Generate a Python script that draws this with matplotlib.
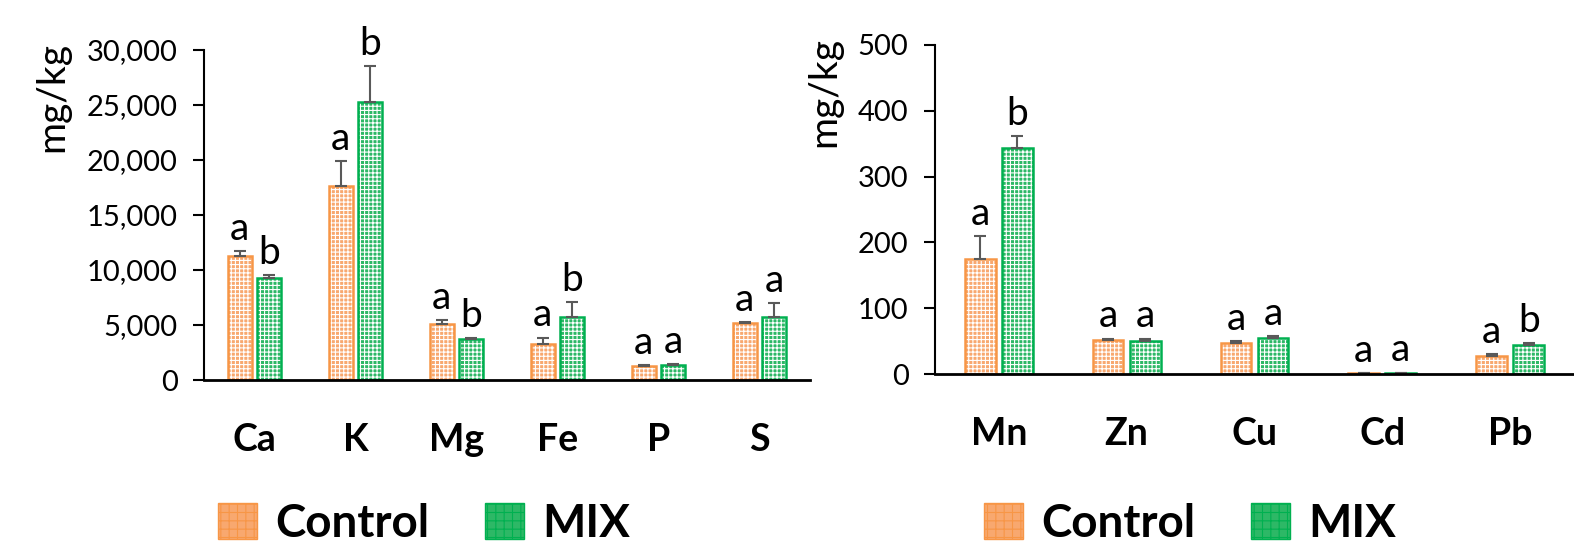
import matplotlib.pyplot as plt
import numpy as np
from matplotlib.patches import Patch

plt.rcParams['font.family'] = ['Lato', 'DejaVu Sans']
plt.rcParams['hatch.linewidth'] = 0.8

# left panel: macro elements
macro = ['Ca', 'K', 'Mg', 'Fe', 'P', 'S']
macro_ctrl = [11300, 17600, 5060, 3250, 1270, 5150]
macro_ctrl_err = [450, 2300, 370, 600, 80, 100]
macro_mix = [9300, 25250, 3750, 5700, 1360, 5700]
macro_mix_err = [250, 3300, 60, 1400, 100, 1270]
macro_ctrl_lbl = ['a', 'a', 'a', 'a', 'a', 'a']
macro_mix_lbl = ['b', 'b', 'b', 'b', 'a', 'a']

# right panel: trace elements
trace = ['Mn', 'Zn', 'Cu', 'Cd', 'Pb']
trace_ctrl = [175, 52, 47, 1.5, 27.5]
trace_ctrl_err = [34, 2, 3, 0.5, 2.5]
trace_mix = [344, 50, 55, 1.8, 44.5]
trace_mix_err = [17, 4, 3, 0.5, 3]
trace_ctrl_lbl = ['a', 'a', 'a', 'a', 'a']
trace_mix_lbl = ['b', 'a', 'a', 'a', 'b']

orange = '#F79646'
orange_fill = '#F8A86F'
green = '#00B050'
green_fill = '#2DB866'
err_col = '#595959'

fig = plt.figure(figsize=(15.74, 5.55), dpi=100)
ax1 = fig.add_axes([0.1296, 0.3153, 0.385, 0.5946])
ax2 = fig.add_axes([0.594, 0.326, 0.406, 0.593])

w = 0.24
off = 0.145


def draw_bars(ax, vals, errs, x, edge, fill, lbls):
    ax.bar(x, vals, w, color=fill, edgecolor='#FFFFFF', hatch='++++', linewidth=0)
    ax.bar(x, vals, w, fill=False, edgecolor=edge, linewidth=1.8)
    ax.errorbar(x, vals, yerr=[np.zeros(len(vals)), errs], fmt='none',
                ecolor=err_col, elinewidth=1.5, capsize=4, capthick=1.5)
    for xi, v, e, t in zip(x, vals, errs, lbls):
        ax.annotate(t, (xi, v + e), xytext=(0, 3), textcoords='offset points',
                    ha='center', va='bottom', fontsize=28)


def style(ax, cats, ymax, step, fmt):
    x = np.arange(len(cats))
    ax.set_xlim(-0.5, len(cats) - 0.5)
    ax.set_ylim(0, ymax)
    ax.set_yticks(np.arange(0, ymax + 1, step))
    ax.set_yticklabels([fmt.format(v) for v in np.arange(0, ymax + 1, step)])
    ax.set_xticks(x)
    ax.set_xticklabels(cats, fontsize=27, fontweight='bold')
    ax.tick_params(axis='x', length=0, pad=31)
    ax.tick_params(axis='y', length=8, width=1.5, labelsize=21, pad=11)
    for s in ['top', 'right']:
        ax.spines[s].set_visible(False)
    ax.spines['left'].set_linewidth(1.5)
    ax.spines['bottom'].set_linewidth(2)


x1 = np.arange(len(macro))
draw_bars(ax1, macro_ctrl, macro_ctrl_err, x1 - off, orange, orange_fill, macro_ctrl_lbl)
draw_bars(ax1, macro_mix, macro_mix_err, x1 + off, green, green_fill, macro_mix_lbl)
style(ax1, macro, 30000, 5000, '{:,.0f}')

x2 = np.arange(len(trace))
draw_bars(ax2, trace_ctrl, trace_ctrl_err, x2 - off, orange, orange_fill, trace_ctrl_lbl)
draw_bars(ax2, trace_mix, trace_mix_err, x2 + off, green, green_fill, trace_mix_lbl)
style(ax2, trace, 500, 100, '{:.0f}')

fig.text(52 / 1574, 1 - 97 / 555, 'mg/kg', rotation=90, ha='center', va='center', fontsize=28)
fig.text(824 / 1574, 1 - 92 / 555, 'mg/kg', rotation=90, ha='center', va='center', fontsize=28)

handles = [Patch(facecolor=orange_fill, edgecolor=orange, hatch='++', label='Control'),
           Patch(facecolor=green_fill, edgecolor=green, hatch='++', label='MIX')]
for cx in [424 / 1574, 1190 / 1574]:
    fig.legend(handles=handles, loc='center', bbox_to_anchor=(cx, 1 - 524 / 555), ncol=2,
               frameon=False, prop={'size': 33, 'weight': 'bold'}, handlelength=0.85,
               handleheight=0.85, handletextpad=0.4, columnspacing=1.2)

fig.savefig('out.png', dpi=100)
